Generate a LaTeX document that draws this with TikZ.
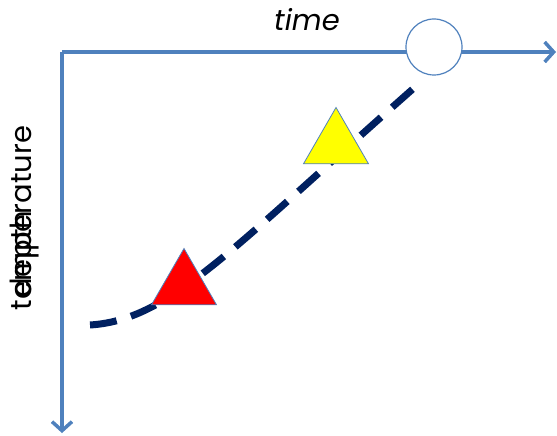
\documentclass[tikz,border=0pt]{standalone}
\usepackage{fontspec}
\setmainfont{Poppins}
\usepackage{tikz}
\usetikzlibrary{arrows.meta,calc,positioning,shapes.geometric}
\definecolor{axisblue}{RGB}{79,129,189}
\definecolor{pathnavy}{RGB}{0,32,96}
\definecolor{warmred}{RGB}{255,0,0}
\definecolor{coolyellow}{RGB}{255,255,0}

\begin{document}
\begin{tikzpicture}[
      x=1pt, y=-1pt,
      axis/.style={draw=axisblue, line width=3.5pt, -{Straight Barb[length=9pt,width=20pt]}},
      marker/.style={regular polygon, regular polygon sides=3, minimum size=75pt, inner sep=0pt, draw=axisblue, line width=0.8pt},
      label/.style={font=\fontsize{29}{34}\selectfont, inner sep=0pt}
    ]
      \useasboundingbox (0,0) rectangle (557,436);

      \coordinate (origin) at (62,52);
      \coordinate (timeend) at (556,52);
      \coordinate (depthend) at (62,433);
      \coordinate (pathstart) at (90,325);
      \coordinate (pathend) at (423,80);

      \draw[axis] (origin) -- (timeend);
      \draw[axis] (origin) -- (depthend);

      \node[label] (timelabel) at (307,20) {\itshape time};
      \node[label, rotate=90] (templabel) at (25,218) {temperature};
      \node[label, rotate=90] (depthlabel) at (25,254) {depth};

      \draw[pathnavy, line width=7pt, dash pattern=on 27pt off 15pt]
        (pathstart) .. controls (170,320) and (230,250) .. (pathend);

      \node[circle, draw=axisblue, fill=white, line width=1.2pt, minimum size=56pt, inner sep=0pt] (now) at (434,47) {};

      \node[marker, fill=coolyellow] (shallow) at (336,145) {};
      \node[marker, fill=warmred] (deep) at (184,286) {};
    \end{tikzpicture}
\end{document}
